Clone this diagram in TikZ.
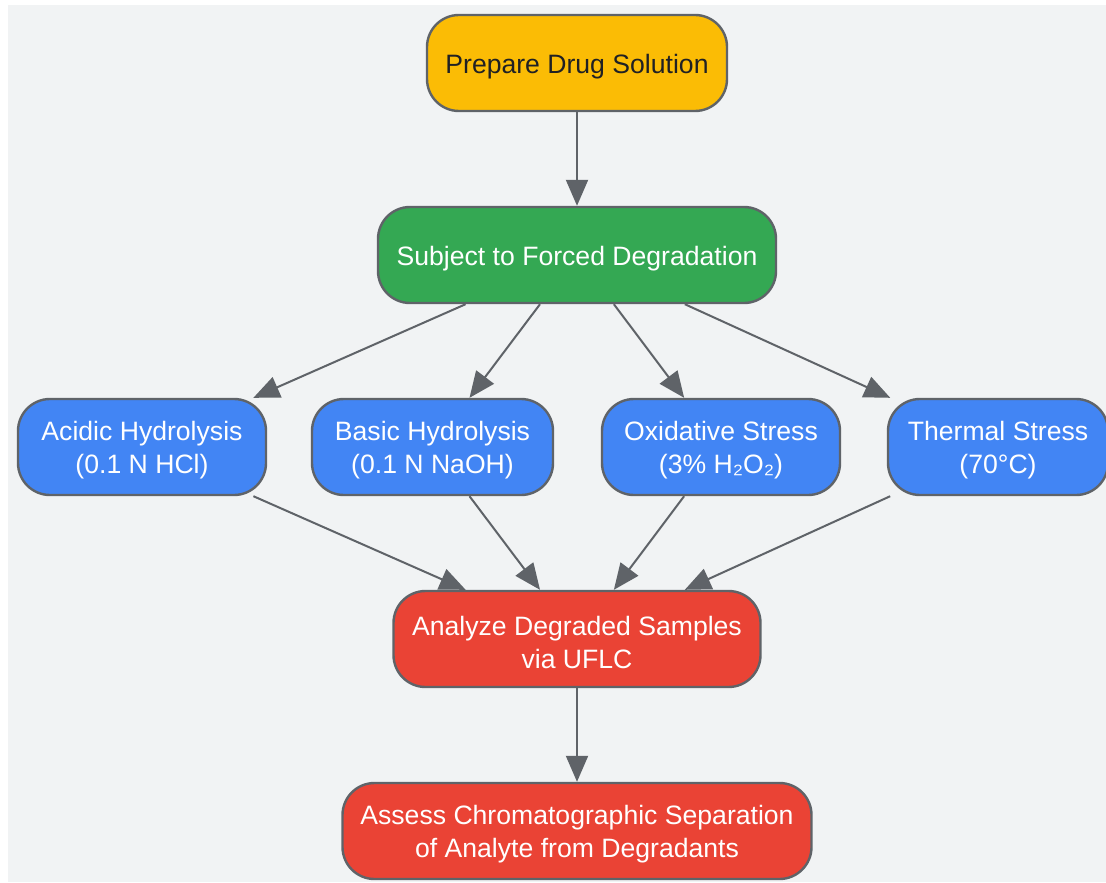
\documentclass[tikz,border=0pt]{standalone}
\usepackage{fontspec}
\setmainfont{Liberation Sans}
\usetikzlibrary{arrows.meta}
\definecolor{bgc}{HTML}{F1F3F4}
\definecolor{edgec}{HTML}{5F6368}
\definecolor{gyellow}{HTML}{FBBC05}
\definecolor{ggreen}{HTML}{34A853}
\definecolor{gblue}{HTML}{4285F4}
\definecolor{gred}{HTML}{EA4335}
\definecolor{darktext}{HTML}{202124}
\tikzset{
  box/.style={draw=edgec, line width=1.2pt, rounded corners=16pt, minimum height=48pt,
    inner sep=0pt},
  boxlabel/.style={inner sep=0pt, align=center, yshift=-1.6pt,
    font=\fontsize{13.3}{16.5}\selectfont, text=white},
  darklabel/.style={boxlabel, text=darktext},
  conn/.style={draw=edgec, line width=1pt, -{Triangle[length=13pt,width=11pt]}},
}
\begin{document}
\begin{tikzpicture}[x=0.5pt,y=-0.5pt]
\useasboundingbox (0,0) rectangle (1106,882);
\fill[white] (0,0) rectangle (1106,882);
\fill[bgc] (8,5) rectangle (1106,882);
\node[box, fill=gyellow, minimum width=150pt, label={[darklabel]center:{Prepare Drug Solution}}] (prep) at (577,63) {};
\node[box, fill=ggreen, minimum width=199pt, label={[boxlabel]center:{Subject to Forced Degradation}}] (subj) at (577,255) {};
\node[box, fill=gblue, minimum width=124pt, label={[boxlabel]center:{Acidic Hydrolysis\\(0.1 N HCl)}}] (acid) at (142,447) {};
\node[box, fill=gblue, minimum width=120.5pt, label={[boxlabel]center:{Basic Hydrolysis\\(0.1 N NaOH)}}] (base) at (432.5,447) {};
\node[box, fill=gblue, minimum width=119pt, label={[boxlabel]center:{Oxidative Stress\\(3\% H₂O₂)}}] (oxid) at (721,447) {};
\node[box, fill=gblue, minimum width=110pt, label={[boxlabel]center:{Thermal Stress\\(70°C)}}] (therm) at (998,447) {};
\node[box, fill=gred, minimum width=183.5pt, label={[boxlabel]center:{Analyze Degraded Samples\\via UFLC}}] (anal) at (577,639) {};
\node[box, fill=gred, minimum width=234.5pt, label={[boxlabel]center:{Assess Chromatographic Separation\\of Analyte from Degradants}}] (assess) at (577,831) {};
\draw[conn] (prep) -- (subj);
\draw[conn] (subj) -- (acid);
\draw[conn] (subj) -- (base);
\draw[conn] (subj) -- (oxid);
\draw[conn] (subj) -- (therm);
\draw[conn] (acid) -- (anal);
\draw[conn] (base) -- (anal);
\draw[conn] (oxid) -- (anal);
\draw[conn] (therm) -- (anal);
\draw[conn] (anal) -- (assess);
\end{tikzpicture}
\end{document}
